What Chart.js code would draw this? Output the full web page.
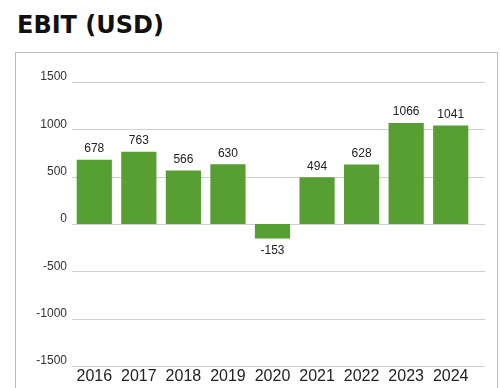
<!DOCTYPE html>
<html>
<head>
<meta charset="utf-8">
<script src="https://cdn.jsdelivr.net/npm/chart.js@4"></script>
<style>
  html, body { margin: 0; padding: 0; background: #fff; overflow: hidden; }
  body { width: 500px; height: 388px; position: relative; }
  .title {
    position: absolute; left: 17px; top: 13px;
    font-family: "DejaVu Sans", sans-serif; font-weight: bold;
    font-size: 24px; line-height: 24px; color: #111;
  }
  .box {
    position: absolute; left: 15px; top: 52px;
    width: 481px; height: 345px;
    border: 1px solid #bbb; background: #fff;
  }
  .box canvas { display: block; }
</style>
</head>
<body>
<div class="title">EBIT (USD)</div>
<div class="box"><canvas id="ebitChart" width="481" height="345"></canvas></div>
<script>
const years = ['2016', '2017', '2018', '2019', '2020', '2021', '2022', '2023', '2024'];
const ebit = [678, 763, 566, 630, -153, 494, 628, 1066, 1041];
const yTicks = [-1500, -1000, -500, 0, 500, 1000, 1500];

// horizontal grid lines run a little past the last category
const gridPlugin = {
    id: 'wideGrid',
    beforeDatasetsDraw(chart) {
        const { ctx, chartArea, scales } = chart;
        ctx.save();
        ctx.strokeStyle = '#cfcfcf';
        ctx.lineWidth = 1;
        yTicks.forEach(v => {
            const y = Math.round(scales.y.getPixelForValue(v)) + 0.5;
            ctx.beginPath();
            ctx.moveTo(chartArea.left, y);
            ctx.lineTo(chartArea.right + 12, y);
            ctx.stroke();
        });
        ctx.restore();
    }
};

// value labels above positive bars, below negative ones
const valuePlugin = {
    id: 'valueLabels',
    afterDatasetsDraw(chart) {
        const { ctx } = chart;
        const meta = chart.getDatasetMeta(0);
        ctx.save();
        ctx.font = '12px "Liberation Sans", Arial, sans-serif';
        ctx.fillStyle = '#222';
        ctx.textAlign = 'center';
        ctx.textBaseline = 'middle';
        meta.data.forEach((bar, i) => {
            const v = ebit[i];
            const y = v >= 0 ? bar.y - 11 : bar.y + 12;
            ctx.fillText(String(v), bar.x, y);
        });
        ctx.restore();
    }
};

new Chart(document.getElementById('ebitChart'), {
    type: 'bar',
    data: {
        labels: years,
        datasets: [{
            data: ebit,
            backgroundColor: '#579e33',
            borderWidth: 0,
            barPercentage: 0.79,
            categoryPercentage: 1
        }]
    },
    options: {
        responsive: false,
        animation: false,
        layout: { padding: { top: 29, right: 24, left: 0, bottom: 0 } },
        plugins: {
            legend: { display: false },
            tooltip: { enabled: false }
        },
        scales: {
            x: {
                grid: { display: false, drawTicks: false },
                border: { display: false },
                ticks: {
                    color: '#222',
                    padding: 1,
                    maxRotation: 0,
                    font: { family: '"Liberation Sans", Arial, sans-serif', size: 16 }
                },
                afterFit(scale) { scale.height = 32; }
            },
            y: {
                min: -1500,
                max: 1500,
                grid: { display: false, drawTicks: false },
                border: { display: false },
                ticks: {
                    stepSize: 500,
                    color: '#333',
                    padding: 5,
                    labelOffset: -5,
                    font: { family: '"Liberation Sans", Arial, sans-serif', size: 12 },
                    callback: v => String(v)
                },
                afterFit(scale) { scale.width = 56; }
            }
        }
    },
    plugins: [gridPlugin, valuePlugin]
});
</script>
</body>
</html>
